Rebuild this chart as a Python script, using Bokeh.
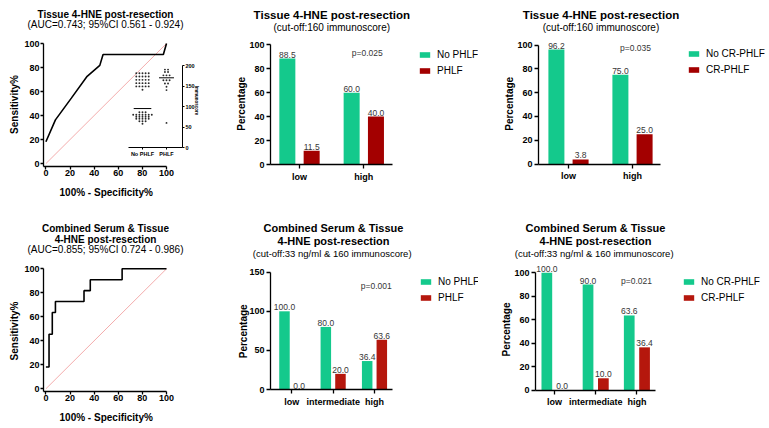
import math
from bokeh.plotting import figure
from bokeh.models import (Range1d, LinearAxis, FixedTicker, Label, Legend, LegendItem)
from bokeh.layouts import column, row
from bokeh.core.properties import value
from bokeh.embed import file_html
from bokeh.resources import INLINE

FONT = "Liberation Sans"
GREEN = "#14c98c"
RED_TOP = "#a30000"
RED_BOT = "#b5170d"

# ---------------- data ----------------
roc1_fpr = [0, 7.9, 21.1, 34.2, 44.7, 47.4, 97.4, 100]
roc1_sens = [18.2, 36.4, 54.5, 72.7, 81.8, 90.9, 90.9, 100]
roc2_fpr = [0, 2.6, 5.3, 7.9, 31.6, 36.8, 63.2, 100]
roc2_sens = [18.2, 45.5, 63.6, 72.7, 81.8, 90.9, 100, 100]

inset_groups = ["No PHLF", "PHLF"]
no_phlf_scores = [181, 181, 181, 181, 181, 173, 173, 173, 173, 173,
                  165, 165, 165, 165, 165, 157, 157, 157, 157, 157,
                  149, 149, 149, 149, 149, 141,
                  86, 86, 86, 80, 80, 80, 80, 80, 80, 80,
                  75, 75, 75, 75, 75, 70, 70, 70, 70, 70, 64, 64, 64, 58]
phlf_scores = [190, 190, 184, 184, 176, 176, 176, 164, 164, 164,
               156, 156, 148, 140, 60]
inset_means = [95, 170]

cats_a = ["low", "high"]
no_phlf_a = [88.5, 60.0]
phlf_a = [11.5, 40.0]

cats_b = ["low", "high"]
no_cr_b = [96.2, 75.0]
cr_b = [3.8, 25.0]

cats_c = ["low", "intermediate", "high"]
no_phlf_c = [100.0, 80.0, 36.4]
phlf_c = [0.0, 20.0, 63.6]

cats_d = ["low", "intermediate", "high"]
no_cr_d = [100.0, 90.0, 63.6]
cr_d = [0.0, 10.0, 36.4]


def lin(pa, va, pb, vb):
    k = (vb - va) / (pb - pa)
    return lambda px: va + (px - pa) * k


def make_fig(fig_left, fig_top, w, h, fx, fy):
    p = figure(width=w, height=h,
               x_range=Range1d(fx(fig_left), fx(fig_left + w)),
               y_range=Range1d(fy(fig_top + h), fy(fig_top)),
               min_border_left=0, min_border_right=0,
               min_border_top=0, min_border_bottom=0,
               output_backend="svg", toolbar_location=None)
    p.outline_line_color = None
    p.xgrid.grid_line_color = None
    p.ygrid.grid_line_color = None
    p.background_fill_color = "white"
    return p


def style_axis(ax, size="9px"):
    ax.axis_line_width = 1.3
    ax.axis_line_color = "black"
    ax.major_tick_line_width = 1.3
    ax.major_tick_line_color = "black"
    ax.major_tick_out = 4
    ax.major_tick_in = 0
    ax.minor_tick_line_color = None
    ax.major_label_standoff = 2
    ax.major_label_text_font = FONT
    ax.major_label_text_font_style = "bold"
    ax.major_label_text_font_size = size
    ax.major_label_text_color = "black"


def text_label(p, x, y, txt, size, bold=False, color="black", angle=0.0):
    p.add_layout(Label(x=x, y=y, text=txt, text_align="center", text_baseline="middle",
                       text_font=FONT, text_font_size=size, angle=angle,
                       text_font_style="bold" if bold else "normal",
                       text_color=color))


def roc_fig(fig_top, h, fy, fpr, sens, step, titles, ylab_y, xlab_y):
    fx = lin(45.4, 0, 166.0, 100)
    p = make_fig(0, fig_top, 208, h, fx, fy)
    p.line([0, 100], [0, 100], line_color="#f2a3a3", line_width=0.9)
    if step:
        p.step(fpr, sens, mode="after", line_color="black", line_width=1.6)
    else:
        p.line(fpr, sens, line_color="black", line_width=1.6)
    xa = p.below[0]
    ya = p.left[0]
    for ax in (xa, ya):
        style_axis(ax)
        ax.ticker = FixedTicker(ticks=[0, 20, 40, 60, 80, 100])
        ax.major_tick_out = 3
        ax.major_label_standoff = 1
    corner_x, corner_y = fx(43.0), fy(165.7 if fig_top == 0 else 390.5)
    xa.fixed_location = corner_y
    xa.bounds = (corner_x, 100)
    ya.fixed_location = corner_x
    ya.bounds = (corner_y, 100)
    text_label(p, fx(13.7), fy(ylab_y), "Sensitivity%", "10px", True, angle=math.pi / 2)
    text_label(p, fx(105.7), fy(xlab_y), "100% - Specificity%", "10px", True)
    for (txt, ypx, size, bold) in titles:
        text_label(p, fx(105), fy(ypx), txt, size, bold)
    return p, fx


# ---------------- panel 1: ROC tissue with inset ----------------
fy1 = lin(163.1, 0, 43.0, 100)
p1, fx1 = roc_fig(0, 213, fy1, roc1_fpr, roc1_sens, False,
                  [("Tissue 4-HNE post-resection", 13.7, "10px", True),
                   ("(AUC=0.743; 95%CI 0.561 - 0.924)", 23.7, "10px", False)],
                  104.0, 191.7)

fs = lin(147.0, 0, 65.0, 200)  # inset immunoscore scale
p1.extra_y_ranges = {"ins": Range1d(fs(213), fs(0))}
ins_r = LinearAxis(y_range_name="ins", bounds=(0, 200), fixed_location=fx1(182),
                   ticker=FixedTicker(ticks=[0, 50, 100, 150, 200]))
style_axis(ins_r, size="5.5px")
ins_r.major_tick_out = 2
ins_r.major_label_standoff = 1
ins_r.axis_line_width = 1.0
ins_r.major_tick_line_width = 1.0
p1.add_layout(ins_r, "right")

ins_centers = [fx1(142), fx1(166)]
ins_b = LinearAxis(bounds=(fx1(128), fx1(182)), fixed_location=fy1(147),
                   ticker=FixedTicker(ticks=ins_centers),
                   major_label_overrides={ins_centers[0]: inset_groups[0],
                                          ins_centers[1]: inset_groups[1]})
style_axis(ins_b, size="5.5px")
ins_b.major_tick_out = 2
ins_b.major_label_standoff = 1
ins_b.axis_line_width = 1.0
ins_b.major_tick_line_width = 1.0
p1.add_layout(ins_b, "below")

dot_dx = 3.1 / 1.206
xs, ys = [], []
for cx, scores in zip(ins_centers, [no_phlf_scores, phlf_scores]):
    counts = {}
    for s in scores:
        counts[s] = counts.get(s, 0) + 1
    seen = {}
    for s in scores:
        j = seen.get(s, 0)
        seen[s] = j + 1
        xs.append(cx + (j - (counts[s] - 1) / 2) * dot_dx)
        ys.append(s)
p1.scatter(xs, ys, y_range_name="ins", size=1.9, color="#2a2a2a", line_color=None)
half = [7.3, 6.2]
p1.segment(x0=[c - hw for c, hw in zip(ins_centers, half)], y0=inset_means,
           x1=[c + hw for c, hw in zip(ins_centers, half)], y1=inset_means,
           y_range_name="ins", line_color="black", line_width=1.0)
text_label(p1, fx1(196), fy1(100), "Immunoscore", "4.5px", True, angle=-math.pi / 2)

# ---------------- panel 4: ROC combined ----------------
fy4 = lin(388.3, 0, 268.3, 100)
p4, fx4 = roc_fig(213, 215, fy4, roc2_fpr, roc2_sens, True,
                  [("Combined Serum & Tissue", 227.7, "10px", True),
                   ("4-HNE post-resection", 239.3, "10px", True),
                   ("(AUC=0.855; 95%CI 0.724 - 0.986)", 249.3, "10px", False)],
                  330.5, 416.7)


# ---------------- bar panels ----------------
def bar_fig(fig_left, fig_top, w, h, ax_x, axis_end, cx0, dcx, y0px, ky, yticks,
            cats, g_vals, r_vals, red, off, bw, names, titles, pval, leg_xy,
            title_cx, ylab_xy):
    fx = lin(cx0, 0, cx0 + dcx, 1)
    fy = lin(y0px, 0, y0px - ky, 1)
    p = make_fig(fig_left, fig_top, w, h, fx, fy)
    n = len(cats)
    idx = list(range(n))
    gx = [i - off for i in idx]
    rx = [i + off for i in idx]
    rg = p.vbar(x=gx, top=g_vals, bottom=0, width=bw, fill_color=GREEN, line_color=None)
    rr = p.vbar(x=rx, top=r_vals, bottom=0, width=bw, fill_color=red, line_color=None)
    for xx, vv in ((gx, g_vals), (rx, r_vals)):
        p.text(x=xx, y=vv, text=[f"{v:.1f}" for v in vv], text_align="center",
               text_baseline="alphabetic", y_offset=-4, text_font=value(FONT),
               text_font_size="8.5px", text_color="#363636")
    xa = p.below[0]
    ya = p.left[0]
    style_axis(xa)
    style_axis(ya)
    xa.ticker = FixedTicker(ticks=idx)
    xa.major_label_overrides = {i: c for i, c in zip(idx, cats)}
    xa.fixed_location = 0
    xa.bounds = (fx(ax_x), fx(axis_end))
    xa.major_label_standoff = 3
    ya.ticker = FixedTicker(ticks=yticks)
    ya.fixed_location = fx(ax_x)
    ya.bounds = (0, yticks[-1])
    text_label(p, fx(ylab_xy[0]), fy(ylab_xy[1]), "Percentage", "10px", True, angle=math.pi / 2)
    for (txt, ypx, size, bold) in titles:
        text_label(p, fx(title_cx), fy(ypx), txt, size, bold)
    text_label(p, fx(pval[1]), fy(pval[2]), pval[0], "8.5px", False, color="#363636")
    leg = Legend(items=[LegendItem(label=names[0], renderers=[rg]),
                        LegendItem(label=names[1], renderers=[rr])],
                 location=(leg_xy[0] - fig_left, fig_top + h - (leg_xy[1] - 1 + 28)),
                 orientation="vertical",
                 glyph_width=13, glyph_height=7, label_height=12, spacing=4,
                 padding=0, margin=0, label_standoff=6,
                 border_line_color=None, background_fill_alpha=0,
                 label_text_font=FONT, label_text_font_size="10px",
                 label_text_color="black")
    p.add_layout(leg)
    return p


p2 = bar_fig(208, 0, 270, 213, 270.0, 391.7, 299.0, 64.3, 164.0, 1.197,
             [0, 20, 40, 60, 80, 100],
             cats_a, no_phlf_a, phlf_a, RED_TOP, 0.189, 0.249, ["No PHLF", "PHLF"],
             [("Tissue 4-HNE post-resection", 14.0, "11.5px", True),
              ("(cut-off:160 immunoscore)", 26.7, "10px", False)],
             ("p=0.025", 366.7, 52.3), (418, 49), 331.3, (240.7, 103.3))

p3 = bar_fig(478, 0, 291, 213, 538.0, 660.0, 568.0, 64.0, 163.5, 1.19,
             [0, 20, 40, 60, 80, 100],
             cats_b, no_cr_b, cr_b, RED_TOP, 0.189, 0.25, ["No CR-PHLF", "CR-PHLF"],
             [("Tissue 4-HNE post-resection", 14.0, "11.5px", True),
              ("(cut-off:160 immunoscore)", 26.7, "10px", False)],
             ("p=0.035", 635.0, 47.7), (687, 48), 600.5, (509.0, 103.3))

p5 = bar_fig(208, 213, 270, 215, 270.0, 391.7, 291.3, 41.35, 389.0, 0.782,
             [0, 50, 100, 150],
             cats_c, no_phlf_c, phlf_c, RED_BOT, 0.177, 0.254, ["No PHLF", "PHLF"],
             [("Combined Serum & Tissue", 227.7, "11px", True),
              ("4-HNE post-resection", 240.0, "11px", True),
              ("(cut-off:33 ng/ml  & 160 immunoscore)", 252.7, "9.5px", False)],
             ("p=0.001", 375.7, 285.0), (419, 276), 333.0, (243.3, 330.8))

p6 = bar_fig(478, 213, 291, 215, 535.0, 655.0, 554.0, 41.2, 389.5, 1.172,
             [0, 20, 40, 60, 80, 100],
             cats_d, no_cr_d, cr_d, RED_BOT, 0.186, 0.26, ["No CR-PHLF", "CR-PHLF"],
             [("Combined Serum & Tissue", 227.7, "11px", True),
              ("4-HNE post-resection", 240.0, "11px", True),
              ("(cut-off:33 ng/ml  & 160 immunoscore)", 252.7, "9.5px", False)],
             ("p=0.021", 636.0, 280.0), (682, 276), 595.0, (506.0, 329.0))

layout = column(row(p1, p2, p3), row(p4, p5, p6))
open("out.html", "w").write(file_html(layout, INLINE))
